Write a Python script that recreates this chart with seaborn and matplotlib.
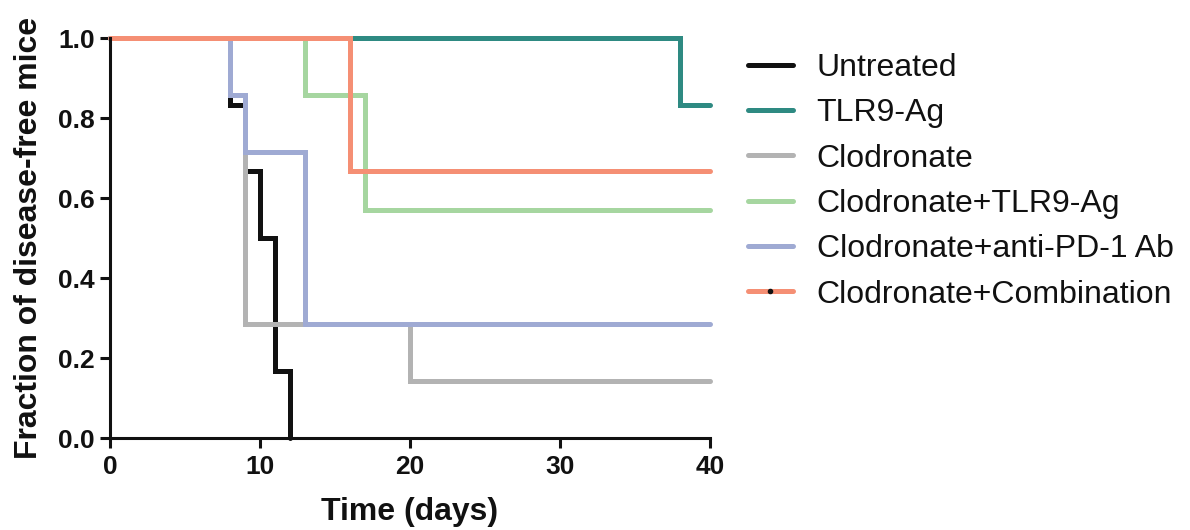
import numpy as np
import pandas as pd
import matplotlib
matplotlib.use("Agg")
import matplotlib.pyplot as plt
import seaborn as sns
from matplotlib.lines import Line2D

groups = ["Untreated", "TLR9-Ag", "Clodronate", "Clodronate+TLR9-Ag",
          "Clodronate+anti-PD-1 Ab", "Clodronate+Combination"]
colors = ["#111111", "#2e8a82", "#b3b3b3", "#a6d6a0", "#9faad3", "#f58f74"]

untreated_t = [0, 8, 9, 10, 11, 12]
untreated_s = [1.0, 0.833, 0.667, 0.5, 0.167, 0.0]
tlr9_t = [0, 38, 40]
tlr9_s = [1.0, 0.833, 0.833]
clod_t = [0, 8, 9, 20, 40]
clod_s = [1.0, 0.857, 0.286, 0.143, 0.143]
clod_tlr9_t = [0, 13, 17, 40]
clod_tlr9_s = [1.0, 0.857, 0.571, 0.571]
clod_pd1_t = [0, 8, 9, 13, 40]
clod_pd1_s = [1.0, 0.857, 0.714, 0.286, 0.286]
clod_comb_t = [0, 16, 40]
clod_comb_s = [1.0, 0.667, 0.667]

series = [(untreated_t, untreated_s), (tlr9_t, tlr9_s), (clod_t, clod_s),
          (clod_tlr9_t, clod_tlr9_s), (clod_pd1_t, clod_pd1_s), (clod_comb_t, clod_comb_s)]

rows = []
for g, (t, s) in zip(groups, series):
    for ti, si in zip(t, s):
        rows.append({"time": ti, "surv": si, "group": g})
df = pd.DataFrame(rows)

sns.set_style("white")
plt.rcParams["font.family"] = ["Liberation Sans", "DejaVu Sans"]
plt.rcParams["text.color"] = "#111111"
plt.rcParams["axes.labelcolor"] = "#111111"
plt.rcParams["xtick.color"] = "#111111"
plt.rcParams["ytick.color"] = "#111111"

fig = plt.figure(figsize=(11.9, 5.3), dpi=100)
ax = fig.add_axes([110/1190, 92/530, 600/1190, 400/530])

sns.lineplot(data=df, x="time", y="surv", hue="group", hue_order=groups,
             palette=dict(zip(groups, colors)), drawstyle="steps-post",
             linewidth=3.6, estimator=None, sort=False, ax=ax, legend=False)
for ln in ax.get_lines():
    ln.set_clip_on(False)
    ln.set_solid_joinstyle("miter")

ax.set_xlim(0, 40)
ax.set_ylim(0, 1.0)
ax.set_xticks([0, 10, 20, 30, 40])
ax.set_yticks([0.0, 0.2, 0.4, 0.6, 0.8, 1.0])
ax.set_yticklabels(["0.0", "0.2", "0.4", "0.6", "0.8", "1.0"])
sns.despine(ax=ax)
for sp in ["left", "bottom"]:
    ax.spines[sp].set_linewidth(2.2)
    ax.spines[sp].set_color("#111111")
ax.tick_params(axis="both", direction="out", length=7.5, width=2.2, color="#111111",
               labelsize=19, left=True, bottom=True)
ax.tick_params(axis="x", pad=5)
ax.tick_params(axis="y", pad=3.5)
for lab in ax.get_xticklabels() + ax.get_yticklabels():
    lab.set_fontweight("bold")
ax.set_xlabel("Time (days)", fontsize=23, fontweight="bold", labelpad=13)
ax.set_ylabel("Fraction of disease-free mice", fontsize=23, fontweight="bold", labelpad=10)

handles = []
for g, c in zip(groups, colors):
    if g == "Clodronate+Combination":
        handles.append(Line2D([], [], color=c, lw=3.6, marker="o", markersize=3,
                              markerfacecolor="#111111", markeredgecolor="#111111"))
    else:
        handles.append(Line2D([], [], color=c, lw=3.6))
fig.legend(handles, groups, loc="upper left", bbox_to_anchor=(748/1190, 1 - 53/530),
           frameon=False, fontsize=23, handlelength=1.4, handletextpad=0.75,
           labelspacing=0.48, borderpad=0, borderaxespad=0)

fig.savefig("out.png", dpi=100)
